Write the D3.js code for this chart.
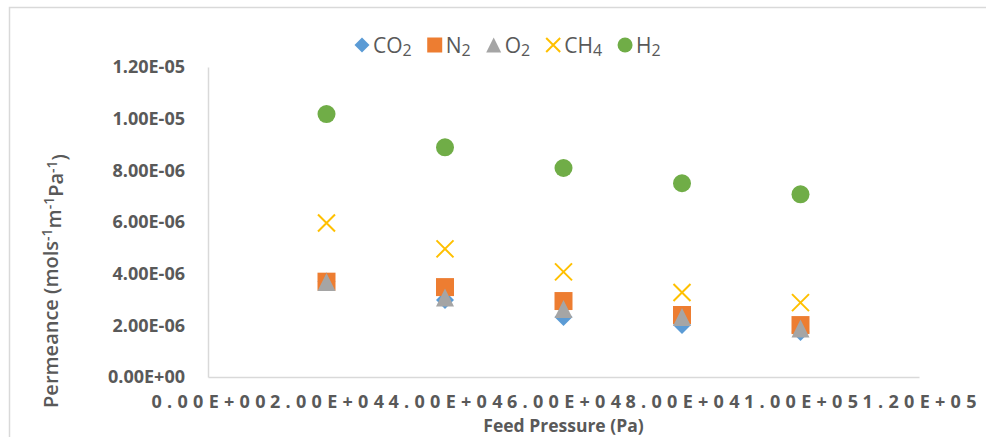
<!DOCTYPE html>
<html>
<head>
<meta charset="utf-8">
<script src="https://cdn.jsdelivr.net/npm/d3@7"></script>
<style>
  html, body { margin: 0; padding: 0; background: #fff; }
  svg { display: block; }
</style>
</head>
<body>
<svg id="chart" width="986" height="437"></svg>
<script>
// ---- data ----
const pressures = [20000, 40000, 60000, 80000, 100000];
const seriesNames = ["CO2", "N2", "O2", "CH4", "H2"];
const co2 = [3.70e-6, 2.98e-6, 2.32e-6, 2.01e-6, 1.74e-6];
const n2  = [3.69e-6, 3.48e-6, 2.94e-6, 2.40e-6, 2.01e-6];
const o2  = [3.68e-6, 3.08e-6, 2.63e-6, 2.32e-6, 1.88e-6];
const ch4 = [5.96e-6, 4.96e-6, 4.07e-6, 3.27e-6, 2.88e-6];
const h2  = [10.18e-6, 8.89e-6, 8.09e-6, 7.50e-6, 7.07e-6];
const xTicks = [0, 20000, 40000, 60000, 80000, 100000, 120000];
const xTickLabels = ["0.00E+00", "2.00E+04", "4.00E+04", "6.00E+04", "8.00E+04", "1.00E+05", "1.20E+05"];
const yTicks = [0, 2e-6, 4e-6, 6e-6, 8e-6, 1e-5, 1.2e-5];
const yTickLabels = ["0.00E+00", "2.00E-06", "4.00E-06", "6.00E-06", "8.00E-06", "1.00E-05", "1.20E-05"];

// ---- styles ----
const colors = { CO2: "#5B9BD5", N2: "#ED7D31", O2: "#A5A5A5", CH4: "#FFC000", H2: "#70AD47" };
const shapes = { CO2: "diamond", N2: "square", O2: "triangle", CH4: "x", H2: "circle" };
const subs = { CO2: ["CO", "2"], N2: ["N", "2"], O2: ["O", "2"], CH4: ["CH", "4"], H2: ["H", "2"] };
const values = { CO2: co2, N2: n2, O2: o2, CH4: ch4, H2: h2 };
const textColor = "#595959";
const axisColor = "#D9D9D9";
const font = "'Open Sans', 'Liberation Sans', sans-serif";

const svg = d3.select("#chart");

// chart frame
svg.append("rect")
  .attr("x", 9.5).attr("y", 7.5)
  .attr("width", 1100).attr("height", 600)
  .attr("fill", "none").attr("stroke", axisColor).attr("stroke-width", 1.5);

const x = d3.scaleLinear().domain([0, 120000]).range([208, 919]);
const y = d3.scaleLinear().domain([0, 1.2e-5]).range([377, 67]);

// y axis
const yAxis = svg.append("g")
  .attr("transform", `translate(${x(0)},0)`)
  .call(d3.axisLeft(y).tickValues(yTicks)
    .tickFormat((d, i) => yTickLabels[i]).tickSize(0).tickPadding(23));
yAxis.select(".domain").attr("stroke", axisColor).attr("stroke-width", 1.5);
yAxis.selectAll("text")
  .attr("fill", textColor)
  .style("font-family", font).style("font-size", "18px").style("font-weight", "bold");

// x axis
const xAxis = svg.append("g")
  .attr("transform", `translate(0,${y(0)})`)
  .call(d3.axisBottom(x).tickValues(xTicks)
    .tickFormat((d, i) => xTickLabels[i]).tickSize(0).tickPadding(25));
xAxis.select(".domain").attr("stroke", axisColor).attr("stroke-width", 1.5);
xAxis.selectAll(".tick text")
  .attr("fill", textColor)
  .attr("dy", "0.35em")
  .attr("textLength", 114)
  .attr("lengthAdjust", "spacing")
  .attr("text-anchor", "start")
  .attr("x", -57)
  .style("font-family", font).style("font-size", "18px").style("font-weight", "bold");

// symbols
function symbolPath(shape, size) {
  const h = size / 2;
  switch (shape) {
    case "diamond": return `M0,${-h}L${h},0L0,${h}L${-h},0Z`;
    case "square": return `M${-h},${-h}H${h}V${h}H${-h}Z`;
    case "triangle": return `M0,${-h}L${h},${h}L${-h},${h}Z`;
    case "x": return `M${-h},${-h}L${h},${h}M${h},${-h}L${-h},${h}`;
    case "circle": return `M${h},0A${h},${h} 0 1,1 ${-h},0A${h},${h} 0 1,1 ${h},0Z`;
  }
}
function styleMarker(sel, name) {
  if (shapes[name] === "x") {
    sel.attr("fill", "none").attr("stroke", colors[name]).attr("stroke-width", 2);
  } else {
    sel.attr("fill", colors[name]).attr("stroke", "none");
  }
}

const plot = svg.append("g");
seriesNames.forEach(name => {
  const sz = shapes[name] === "x" ? 17 : 18;
  plot.append("g").selectAll("path")
    .data(pressures.map((p, i) => ({ p, v: values[name][i] })))
    .join("path")
    .attr("transform", d => `translate(${x(d.p)},${y(d.v)})`)
    .attr("d", symbolPath(shapes[name], sz))
    .call(styleMarker, name);
});

// legend
const legend = svg.append("g");
let cx = 362;
const ly = 45;
seriesNames.forEach(name => {
  const sz = shapes[name] === "x" ? 14 : 15;
  legend.append("path")
    .attr("transform", `translate(${cx},${ly})`)
    .attr("d", symbolPath(shapes[name], sz))
    .call(styleMarker, name);
  const t = legend.append("text")
    .attr("x", cx + 11).attr("y", ly).attr("dy", "0.36em")
    .attr("fill", textColor)
    .style("font-family", font).style("font-size", "21px");
  t.append("tspan").text(subs[name][0]);
  t.append("tspan").attr("dy", "0.2em").style("font-size", "16px").text(subs[name][1]);
  const w = t.node().getComputedTextLength();
  cx = cx + 11 + w + 23;
});

// axis titles
svg.append("text")
  .attr("x", (x(0) + x(120000)) / 2).attr("y", 432)
  .attr("text-anchor", "middle")
  .attr("fill", textColor)
  .style("font-family", font).style("font-size", "17.5px").style("font-weight", "bold")
  .text("Feed Pressure (Pa)");

const yt = svg.append("text")
  .attr("transform", "translate(58,281) rotate(-90)")
  .attr("text-anchor", "middle")
  .attr("fill", textColor)
  .style("font-family", font).style("font-size", "20px").style("font-weight", "600");
yt.append("tspan").text("Permeance (mols");
yt.append("tspan").attr("dy", "-0.45em").style("font-size", "14px").text("-1");
yt.append("tspan").attr("dy", "0.45em").text("m");
yt.append("tspan").attr("dy", "-0.45em").style("font-size", "14px").text("-1");
yt.append("tspan").attr("dy", "0.45em").text("Pa");
yt.append("tspan").attr("dy", "-0.45em").style("font-size", "14px").text("-1");
yt.append("tspan").attr("dy", "0.45em").text(")");
</script>
</body>
</html>
